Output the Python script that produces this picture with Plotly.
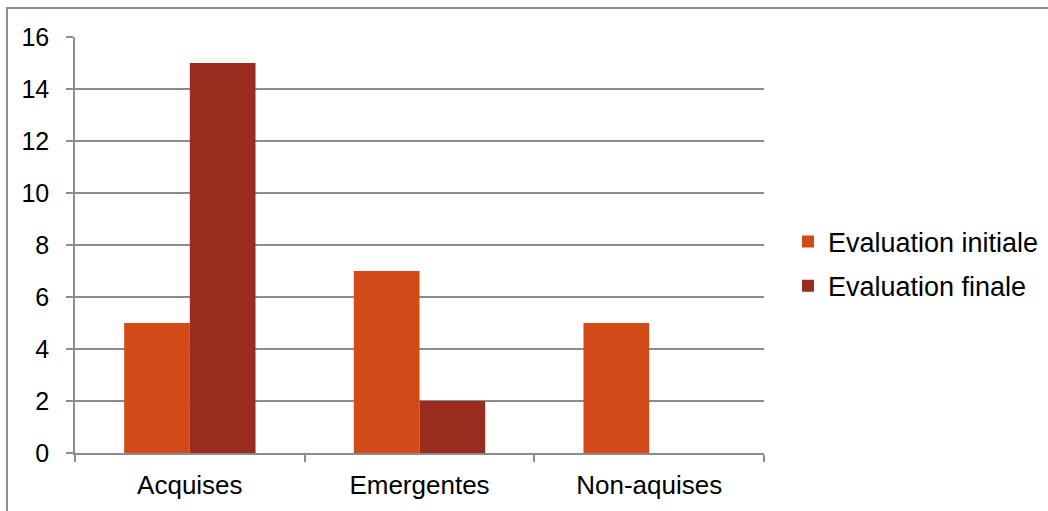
import plotly.graph_objects as go

categories = ["Acquises", "Emergentes", "Non-aquises"]
initial_values = [5, 7, 5]
final_values = [15, 2, 0]
series_names = ["Evaluation initiale", "Evaluation finale"]
y_ticks = [0, 2, 4, 6, 8, 10, 12, 14, 16]

W, H = 1048, 511
L, R, T, B = 75, 284, 37, 58
pw, ph = W - L - R, H - T - B

fig = go.Figure()
fig.add_trace(go.Bar(x=categories, y=initial_values, name=series_names[0],
                     marker=dict(color="#D24A18", line=dict(width=0)),
                     legendgroup="a"))
fig.add_trace(go.Bar(x=categories, y=final_values, name=series_names[1],
                     marker=dict(color="#992B1F", line=dict(width=0)),
                     legendgroup="b"))

def px_x(p):
    return (p - L) / pw

def px_y(p):
    return (H - B - p) / ph

fig.add_shape(type="rect", xref="paper", yref="paper",
              x0=px_x(7), x1=px_x(1060), y0=px_y(8), y1=px_y(530),
              line=dict(color="#8C8C8C", width=2), fillcolor="rgba(0,0,0,0)", layer="below")

fig.update_layout(
    width=W, height=H,
    margin=dict(l=L, r=R, t=T, b=B, pad=0, autoexpand=False),
    paper_bgcolor="white", plot_bgcolor="white",
    font=dict(family="Liberation Sans, Arial, sans-serif", size=25, color="#000000"),
    barmode="group", bargap=0.428, bargroupgap=0,
    showlegend=True,
    legend=dict(x=px_x(788), y=px_y(264), xanchor="left", yanchor="middle",
                traceorder="grouped", tracegroupgap=6,
                font=dict(size=27, color="#000000"), bgcolor="rgba(0,0,0,0)"),
    xaxis=dict(type="category", showgrid=False, showline=True, linecolor="#8C8C8C", linewidth=1.5,
               ticks="outside", tickson="boundaries", ticklen=7, tickcolor="#8C8C8C", tickwidth=1.5,
               ticklabelstandoff=8, automargin=False,
               tickfont=dict(size=26), fixedrange=True),
    yaxis=dict(range=[0, 16], tickvals=y_ticks, showgrid=True, gridcolor="#8C8C8C", gridwidth=1.5,
               showline=True, linecolor="#8C8C8C", linewidth=1.5, zeroline=False,
               ticks="outside", ticklen=7, tickcolor="#8C8C8C", tickwidth=1.5,
               ticklabelstandoff=12, automargin=False,
               tickfont=dict(size=25), fixedrange=True),
)

fig.write_html("out.html")
